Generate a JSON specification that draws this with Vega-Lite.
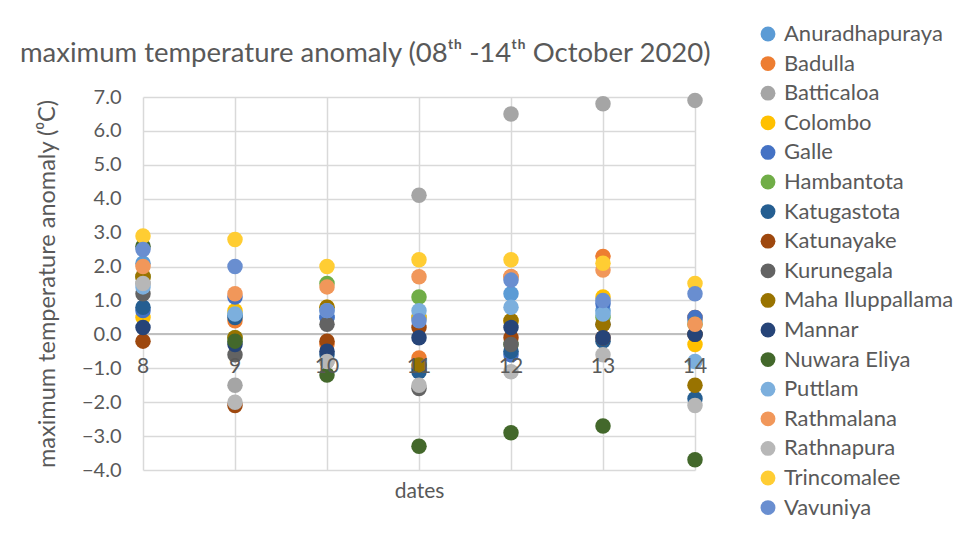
{
  "$schema": "https://vega.github.io/schema/vega-lite/v6.json",
  "width": 552,
  "height": 373,
  "autosize": {"type": "none"},
  "padding": {"left": 143, "top": 97, "right": 266, "bottom": 66},
  "background": "white",
  "config": {
    "font": "Lato",
    "view": {"stroke": null}
  },
  "title": {
    "text": "maximum temperature anomaly (08ᵗʰ -14ᵗʰ October 2020)",
    "anchor": "start",
    "frame": "group",
    "dx": -123,
    "offset": -44,
    "fontSize": 27.5,
    "fontWeight": "normal",
    "color": "#595959",
    "font": "Lato"
  },
  "datasets": {
    "obs": [
      {"station": "Anuradhapuraya", "date": 8, "anomaly": 2.1},
      {"station": "Anuradhapuraya", "date": 9, "anomaly": 0.6},
      {"station": "Anuradhapuraya", "date": 10, "anomaly": 0.5},
      {"station": "Anuradhapuraya", "date": 11, "anomaly": 0.5},
      {"station": "Anuradhapuraya", "date": 12, "anomaly": 1.2},
      {"station": "Anuradhapuraya", "date": 13, "anomaly": 0.7},
      {"station": "Anuradhapuraya", "date": 14, "anomaly": 0.4},
      {"station": "Badulla", "date": 8, "anomaly": 1.7},
      {"station": "Badulla", "date": 9, "anomaly": 0.4},
      {"station": "Badulla", "date": 10, "anomaly": -0.3},
      {"station": "Badulla", "date": 11, "anomaly": -0.7},
      {"station": "Badulla", "date": 12, "anomaly": 1.7},
      {"station": "Badulla", "date": 13, "anomaly": 2.3},
      {"station": "Badulla", "date": 14, "anomaly": 0.5},
      {"station": "Batticaloa", "date": 8, "anomaly": 1.5},
      {"station": "Batticaloa", "date": 9, "anomaly": -1.5},
      {"station": "Batticaloa", "date": 10, "anomaly": -0.8},
      {"station": "Batticaloa", "date": 11, "anomaly": 4.1},
      {"station": "Batticaloa", "date": 12, "anomaly": 6.5},
      {"station": "Batticaloa", "date": 13, "anomaly": 6.8},
      {"station": "Batticaloa", "date": 14, "anomaly": 6.9},
      {"station": "Colombo", "date": 8, "anomaly": 0.5},
      {"station": "Colombo", "date": 9, "anomaly": 0.7},
      {"station": "Colombo", "date": 10, "anomaly": 0.8},
      {"station": "Colombo", "date": 11, "anomaly": 0.5},
      {"station": "Colombo", "date": 12, "anomaly": 0.4},
      {"station": "Colombo", "date": 13, "anomaly": 1.1},
      {"station": "Colombo", "date": 14, "anomaly": -0.3},
      {"station": "Galle", "date": 8, "anomaly": 0.7},
      {"station": "Galle", "date": 9, "anomaly": 1.1},
      {"station": "Galle", "date": 10, "anomaly": 0.5},
      {"station": "Galle", "date": 11, "anomaly": -1.0},
      {"station": "Galle", "date": 12, "anomaly": -0.6},
      {"station": "Galle", "date": 13, "anomaly": 0.9},
      {"station": "Galle", "date": 14, "anomaly": 0.5},
      {"station": "Hambantota", "date": 8, "anomaly": 1.7},
      {"station": "Hambantota", "date": 9, "anomaly": -0.1},
      {"station": "Hambantota", "date": 10, "anomaly": 1.5},
      {"station": "Hambantota", "date": 11, "anomaly": 1.1},
      {"station": "Hambantota", "date": 12, "anomaly": -0.3},
      {"station": "Hambantota", "date": 13, "anomaly": 0.5},
      {"station": "Hambantota", "date": 14, "anomaly": 0.3},
      {"station": "Katugastota", "date": 8, "anomaly": 0.8},
      {"station": "Katugastota", "date": 9, "anomaly": 0.5},
      {"station": "Katugastota", "date": 10, "anomaly": -0.6},
      {"station": "Katugastota", "date": 11, "anomaly": -1.1},
      {"station": "Katugastota", "date": 12, "anomaly": -0.5},
      {"station": "Katugastota", "date": 13, "anomaly": -0.2},
      {"station": "Katugastota", "date": 14, "anomaly": -1.9},
      {"station": "Katunayake", "date": 8, "anomaly": -0.2},
      {"station": "Katunayake", "date": 9, "anomaly": -2.1},
      {"station": "Katunayake", "date": 10, "anomaly": -0.2},
      {"station": "Katunayake", "date": 11, "anomaly": 0.2},
      {"station": "Katunayake", "date": 12, "anomaly": -0.1},
      {"station": "Katunayake", "date": 13, "anomaly": -0.1},
      {"station": "Katunayake", "date": 14, "anomaly": 0.0},
      {"station": "Kurunegala", "date": 8, "anomaly": 1.2},
      {"station": "Kurunegala", "date": 9, "anomaly": -0.6},
      {"station": "Kurunegala", "date": 10, "anomaly": 0.3},
      {"station": "Kurunegala", "date": 11, "anomaly": -1.6},
      {"station": "Kurunegala", "date": 12, "anomaly": -0.3},
      {"station": "Kurunegala", "date": 13, "anomaly": 0.3},
      {"station": "Kurunegala", "date": 14, "anomaly": 0.0},
      {"station": "Maha Iluppallama", "date": 8, "anomaly": 1.7},
      {"station": "Maha Iluppallama", "date": 9, "anomaly": -0.1},
      {"station": "Maha Iluppallama", "date": 10, "anomaly": 0.8},
      {"station": "Maha Iluppallama", "date": 11, "anomaly": -0.9},
      {"station": "Maha Iluppallama", "date": 12, "anomaly": 0.4},
      {"station": "Maha Iluppallama", "date": 13, "anomaly": 0.3},
      {"station": "Maha Iluppallama", "date": 14, "anomaly": -1.5},
      {"station": "Mannar", "date": 8, "anomaly": 0.2},
      {"station": "Mannar", "date": 9, "anomaly": -0.3},
      {"station": "Mannar", "date": 10, "anomaly": -0.5},
      {"station": "Mannar", "date": 11, "anomaly": -0.1},
      {"station": "Mannar", "date": 12, "anomaly": 0.2},
      {"station": "Mannar", "date": 13, "anomaly": -0.1},
      {"station": "Mannar", "date": 14, "anomaly": 0.0},
      {"station": "Nuwara Eliya", "date": 8, "anomaly": 2.6},
      {"station": "Nuwara Eliya", "date": 9, "anomaly": -0.2},
      {"station": "Nuwara Eliya", "date": 10, "anomaly": -1.2},
      {"station": "Nuwara Eliya", "date": 11, "anomaly": -3.3},
      {"station": "Nuwara Eliya", "date": 12, "anomaly": -2.9},
      {"station": "Nuwara Eliya", "date": 13, "anomaly": -2.7},
      {"station": "Nuwara Eliya", "date": 14, "anomaly": -3.7},
      {"station": "Puttlam", "date": 8, "anomaly": 1.4},
      {"station": "Puttlam", "date": 9, "anomaly": 0.6},
      {"station": "Puttlam", "date": 10, "anomaly": 0.7},
      {"station": "Puttlam", "date": 11, "anomaly": 0.7},
      {"station": "Puttlam", "date": 12, "anomaly": 0.8},
      {"station": "Puttlam", "date": 13, "anomaly": 0.6},
      {"station": "Puttlam", "date": 14, "anomaly": -0.8},
      {"station": "Rathmalana", "date": 8, "anomaly": 2.0},
      {"station": "Rathmalana", "date": 9, "anomaly": 1.2},
      {"station": "Rathmalana", "date": 10, "anomaly": 1.4},
      {"station": "Rathmalana", "date": 11, "anomaly": 1.7},
      {"station": "Rathmalana", "date": 12, "anomaly": 1.7},
      {"station": "Rathmalana", "date": 13, "anomaly": 1.9},
      {"station": "Rathmalana", "date": 14, "anomaly": 0.3},
      {"station": "Rathnapura", "date": 8, "anomaly": 1.5},
      {"station": "Rathnapura", "date": 9, "anomaly": -2.0},
      {"station": "Rathnapura", "date": 10, "anomaly": -0.8},
      {"station": "Rathnapura", "date": 11, "anomaly": -1.5},
      {"station": "Rathnapura", "date": 12, "anomaly": -1.1},
      {"station": "Rathnapura", "date": 13, "anomaly": -0.6},
      {"station": "Rathnapura", "date": 14, "anomaly": -2.1},
      {"station": "Trincomalee", "date": 8, "anomaly": 2.9},
      {"station": "Trincomalee", "date": 9, "anomaly": 2.8},
      {"station": "Trincomalee", "date": 10, "anomaly": 2.0},
      {"station": "Trincomalee", "date": 11, "anomaly": 2.2},
      {"station": "Trincomalee", "date": 12, "anomaly": 2.2},
      {"station": "Trincomalee", "date": 13, "anomaly": 2.1},
      {"station": "Trincomalee", "date": 14, "anomaly": 1.5},
      {"station": "Vavuniya", "date": 8, "anomaly": 2.5},
      {"station": "Vavuniya", "date": 9, "anomaly": 2.0},
      {"station": "Vavuniya", "date": 10, "anomaly": 0.7},
      {"station": "Vavuniya", "date": 11, "anomaly": 0.4},
      {"station": "Vavuniya", "date": 12, "anomaly": 1.6},
      {"station": "Vavuniya", "date": 13, "anomaly": 1.0},
      {"station": "Vavuniya", "date": 14, "anomaly": 1.2}
    ],
    "ticks": [
      {"date": 8, "zero": 0}, {"date": 9, "zero": 0}, {"date": 10, "zero": 0},
      {"date": 11, "zero": 0}, {"date": 12, "zero": 0}, {"date": 13, "zero": 0},
      {"date": 14, "zero": 0}
    ]
  },
  "layer": [
    {
      "data": {"name": "ticks"},
      "mark": {"type": "rule", "color": "#BFBFBF", "strokeWidth": 1.5},
      "encoding": {
        "y": {
          "field": "zero",
          "type": "quantitative",
          "scale": {"domain": [-4, 7], "nice": false, "zero": false},
          "axis": {
            "title": "maximum temperature anomaly (⁰C)",
            "titleFontSize": 23.5,
            "titleFontWeight": "normal",
            "titleColor": "#595959",
            "titlePadding": 22,
            "values": [-4, -3, -2, -1, 0, 1, 2, 3, 4, 5, 6, 7],
            "format": ".1f",
            "labelFontSize": 20,
            "labelColor": "#595959",
            "labelPadding": 22,
            "labelOverlap": false,
            "labelFlush": false,
            "ticks": false,
            "domain": false,
            "grid": true,
            "gridColor": "#D9D9D9",
            "gridWidth": 1.5
          }
        }
      }
    },
    {
      "data": {"name": "obs"},
      "mark": {"type": "circle", "size": 240, "opacity": 1},
      "encoding": {
        "x": {
          "field": "date",
          "type": "quantitative",
          "scale": {"domain": [8, 14], "nice": false, "zero": false},
          "axis": {
            "title": "dates",
            "titleFontSize": 21,
            "titleFontWeight": "normal",
            "titleColor": "#595959",
            "titlePadding": 10,
            "values": [8, 9, 10, 11, 12, 13, 14],
            "labels": false,
            "ticks": false,
            "domain": false,
            "grid": true,
            "gridColor": "#D9D9D9",
            "gridWidth": 1.5
          }
        },
        "y": {
          "field": "anomaly",
          "type": "quantitative",
          "scale": {"domain": [-4, 7], "nice": false, "zero": false},
          "axis": {
            "title": "maximum temperature anomaly (⁰C)",
            "titleFontSize": 23.5,
            "titleFontWeight": "normal",
            "titleColor": "#595959",
            "titlePadding": 22,
            "values": [-4, -3, -2, -1, 0, 1, 2, 3, 4, 5, 6, 7],
            "format": ".1f",
            "labelFontSize": 20,
            "labelColor": "#595959",
            "labelPadding": 22,
            "labelOverlap": false,
            "labelFlush": false,
            "ticks": false,
            "domain": false,
            "grid": true,
            "gridColor": "#D9D9D9",
            "gridWidth": 1.5
          }
        },
        "color": {
          "field": "station",
          "type": "nominal",
          "scale": {
            "domain": ["Anuradhapuraya", "Badulla", "Batticaloa", "Colombo", "Galle", "Hambantota", "Katugastota", "Katunayake", "Kurunegala", "Maha Iluppallama", "Mannar", "Nuwara Eliya", "Puttlam", "Rathmalana", "Rathnapura", "Trincomalee", "Vavuniya"],
            "range": ["#5B9BD5", "#ED7D31", "#A5A5A5", "#FFC000", "#4472C4", "#70AD47", "#255E91", "#9E480E", "#636363", "#997300", "#264478", "#43682B", "#7CAFDD", "#F1975A", "#B7B7B7", "#FFCD33", "#698ED0"]
          },
          "legend": {
            "title": null,
            "orient": "none",
            "legendX": 614,
            "legendY": -74,
            "symbolType": "circle",
            "symbolSize": 220,
            "symbolOpacity": 1,
            "labelFontSize": 22,
            "labelColor": "#595959",
            "labelOffset": 5,
            "rowPadding": 7.6,
            "labelLimit": 300
          }
        }
      }
    },
    {
      "data": {"name": "ticks"},
      "mark": {"type": "text", "fontSize": 21, "color": "#595959", "dy": 33, "baseline": "middle"},
      "encoding": {
        "x": {
          "field": "date",
          "type": "quantitative",
          "scale": {"domain": [8, 14], "nice": false, "zero": false},
          "axis": {
            "title": "dates",
            "titleFontSize": 21,
            "titleFontWeight": "normal",
            "titleColor": "#595959",
            "titlePadding": 10,
            "values": [8, 9, 10, 11, 12, 13, 14],
            "labels": false,
            "ticks": false,
            "domain": false,
            "grid": true,
            "gridColor": "#D9D9D9",
            "gridWidth": 1.5
          }
        },
        "y": {
          "field": "zero",
          "type": "quantitative",
          "scale": {"domain": [-4, 7], "nice": false, "zero": false},
          "axis": {
            "title": "maximum temperature anomaly (⁰C)",
            "titleFontSize": 23.5,
            "titleFontWeight": "normal",
            "titleColor": "#595959",
            "titlePadding": 22,
            "values": [-4, -3, -2, -1, 0, 1, 2, 3, 4, 5, 6, 7],
            "format": ".1f",
            "labelFontSize": 20,
            "labelColor": "#595959",
            "labelPadding": 22,
            "labelOverlap": false,
            "labelFlush": false,
            "ticks": false,
            "domain": false,
            "grid": true,
            "gridColor": "#D9D9D9",
            "gridWidth": 1.5
          }
        },
        "text": {"field": "date", "type": "quantitative"}
      }
    }
  ]
}
